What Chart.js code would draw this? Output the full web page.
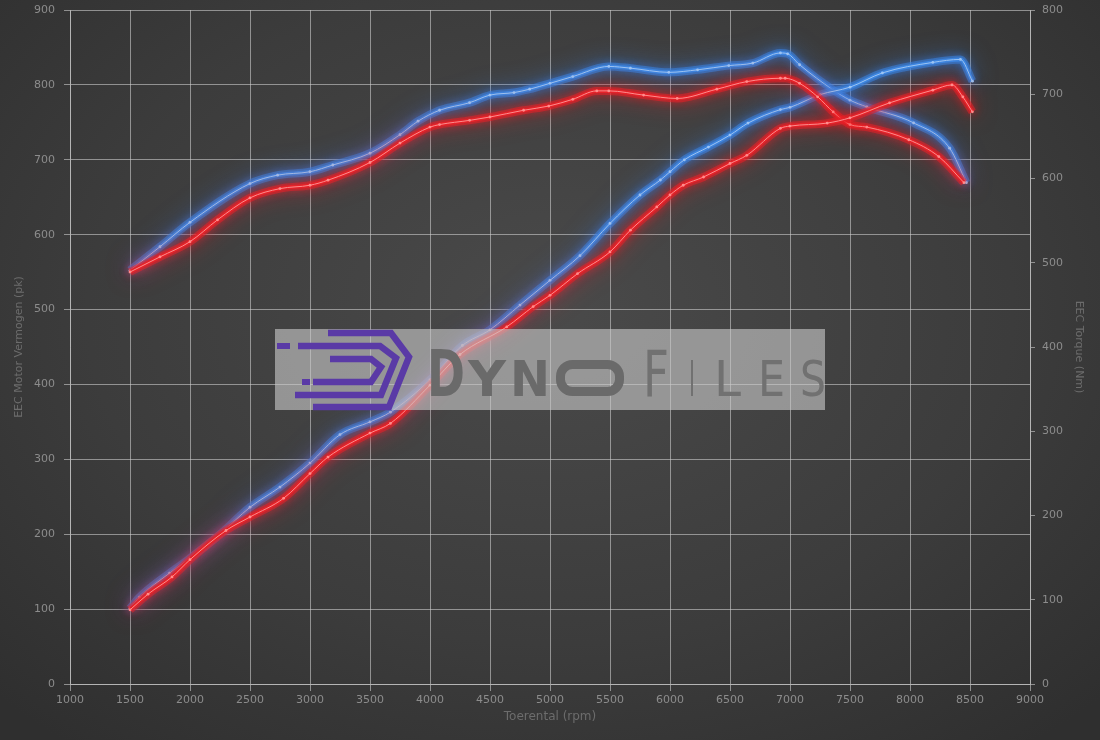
<!DOCTYPE html>
<html>
<head>
<meta charset="utf-8">
<script src="https://cdn.jsdelivr.net/npm/chart.js@4.4.1/dist/chart.umd.min.js"></script>
<style>
html,body{margin:0;padding:0;}
body{width:1100px;height:740px;overflow:hidden;
  background:radial-gradient(ellipse 70% 75% at 50% 42%, #4a4a4a 0%, #3c3c3c 60%, #2f2f2f 100%);}
#wrap{position:relative;width:1100px;height:740px;}
</style>
</head>
<body>
<div id="wrap"><canvas id="dyno" width="1100" height="740"></canvas></div>
<script>
/* Dyno chart - power (pk, left axis) and torque (Nm, right axis), stock vs tuned */

// Data
const rpmPowerTuned = [1500,1580,1830,2000,2250,2500,2750,3000,3250,3500,3670,4000,4270,4500,4750,5000,5250,5500,5750,5920,6000,6120,6320,6500,6650,6920,7000,7250,7500,7770,8190,8420,8520];
const powerTuned    = [101,116,148,168,200,236,263,295,333,350,363,406,452,473,506,539,572,615,653,673,684,700,717,733,749,767,770,787,797,816,830,834,805];

const rpmPowerStock = [1500,1650,1850,2000,2300,2500,2780,3000,3150,3500,3670,4000,4250,4640,4860,5000,5230,5500,5670,5890,6000,6110,6280,6500,6640,6920,7000,7310,7500,7830,8190,8350,8440,8520];
const powerStock    = [99,120,143,166,205,223,248,281,303,335,348,399,440,477,504,519,548,577,606,637,653,666,677,695,706,742,745,749,756,776,793,800,784,764];

const rpmTorqueTuned = [1500,1750,2000,2500,2730,3000,3190,3500,3750,3900,4080,4330,4500,4700,4830,5000,5190,5490,5670,5990,6230,6490,6690,6920,6980,7080,7360,7500,7640,8030,8330,8470];
const torqueTuned    = [491,519,548,594,604,608,616,630,652,668,681,690,699,702,706,713,721,733,731,726,729,734,737,749,748,735,705,693,685,666,636,595];

const rpmTorqueStock = [1500,1750,2000,2230,2500,2750,3000,3150,3500,3750,4000,4080,4330,4500,4780,4990,5190,5390,5490,5780,6060,6390,6640,6920,6960,7080,7230,7360,7500,7640,7990,8240,8450];
const torqueStock    = [489,507,525,551,577,588,592,598,619,642,661,664,669,673,681,686,694,704,704,699,695,706,715,719,719,713,697,679,664,661,646,626,595];

// Axis ranges
const rpmMin = 1000, rpmMax = 9000, rpmStep = 500;
const pkMax = 900, nmMax = 800;

const toXY = (xs, ys) => xs.map((x,i)=>({x, y: ys[i]}));

// Colours
const BLUE = '#3d86e0', BLUE_CORE = '#9cc6f5', BLUE_GLOW = 'rgba(55,130,240,1)';
const RED = '#e4232a', RED_CORE = '#ff8c8c', RED_GLOW = 'rgba(245,30,35,1)';
const gridCol = 'rgba(205,205,205,0.6)';
const tickCol = '#8c8c8c';
const titleCol = '#6c6c6c';
const FONT = 'DejaVu Sans';

function series(label, data, axis, color, core, glowc){
  return {
    label, data, yAxisID: axis,
    borderColor: color, borderWidth: 4,
    pointRadius: 1.4, pointBackgroundColor: core, pointBorderWidth: 0,
    cubicInterpolationMode: 'monotone', fill: false,
    glowColor: glowc, coreColor: core
  };
}

// draw the dataset's line again with other options
function redraw(chart, line, extra){
  const o = line.options;
  line.options = Object.assign({}, o, extra);
  line.draw(chart.ctx, chart.chartArea);
  line.options = o;
}

// glow + light core line
const glowPlugin = {
  id: 'glow',
  beforeDatasetDraw(chart, args){
    const ds = chart.data.datasets[args.index];
    const c = chart.ctx;
    c.save();
    c.shadowColor = ds.glowColor;
    c.shadowBlur = 22;
    c.globalAlpha = 0.55;
    redraw(chart, args.meta.dataset, {borderWidth: 8});
    c.restore();
    c.save();
    c.shadowColor = ds.glowColor;
    c.shadowBlur = 10;
  },
  afterDatasetDraw(chart, args){
    const c = chart.ctx;
    c.restore();
    const ds = chart.data.datasets[args.index];
    redraw(chart, args.meta.dataset, {borderColor: ds.coreColor, borderWidth: 1});
  }
};

// DynoFiles watermark over the plot
const watermark = {
  id: 'watermark',
  afterDraw(chart){
    const c = chart.ctx;
    c.save();
    c.fillStyle = 'rgba(200,200,200,0.62)';
    c.fillRect(275, 329, 550, 81);

    // logo
    c.strokeStyle = '#5a3aa6'; c.fillStyle = '#5a3aa6';
    c.lineWidth = 6.5; c.lineJoin = 'miter'; c.lineCap = 'butt';
    const poly = (pts) => { c.beginPath(); c.moveTo(pts[0][0], pts[0][1]); pts.slice(1).forEach(p=>c.lineTo(p[0],p[1])); c.stroke(); };
    poly([[328,333],[391,333],[409,357],[389,407],[313,407]]);
    poly([[298,346],[380,346],[396,358],[381,395],[295,395]]);
    poly([[330,359],[371,359],[381,367],[371,382],[313,382]]);
    c.fillRect(277, 343, 13, 6);
    c.fillRect(302, 379, 8, 6);

    // text
    c.fillStyle = '#6a6a6a';
    c.textBaseline = 'alphabetic';
    const letter = (ch, x, w, capH, weight) => {
      const size = capH / 0.73;
      c.font = `${weight} ${size}px ${FONT}`;
      const mw = c.measureText(ch).width;
      c.save(); c.translate(x, 396); c.scale(w / mw, 1);
      c.fillText(ch, 0, 0); c.restore();
    };
    letter('D', 427, 38, 47, 'bold');
    letter('Y', 468, 38, 36, 'bold');
    letter('N', 510, 40, 36, 'bold');
    // squarish O
    c.strokeStyle = '#6a6a6a'; c.lineWidth = 9;
    c.beginPath(); c.roundRect(560.5, 364.5, 59, 27, 12); c.stroke();
    c.fillStyle = '#717171';
    letter('F', 643, 26, 47, 'normal');
    letter('I', 689, 6, 36, 'normal');
    letter('L', 714, 27, 36, 'normal');
    letter('E', 758, 27, 36, 'normal');
    letter('S', 800, 26, 36, 'normal');
    c.restore();
  }
};

// keep the plot top at the first grid line, no extra room for the top label
const noPad = (s) => { s.paddingTop = 0; s.paddingBottom = 0; };

new Chart(document.getElementById('dyno'), {
  type: 'line',
  data: {
    datasets: [
      series('Vermogen origineel', toXY(rpmPowerStock, powerStock), 'y', RED, RED_CORE, RED_GLOW),
      series('Koppel origineel', toXY(rpmTorqueStock, torqueStock), 'y2', RED, RED_CORE, RED_GLOW),
      series('Vermogen getuned', toXY(rpmPowerTuned, powerTuned), 'y', BLUE, BLUE_CORE, BLUE_GLOW),
      series('Koppel getuned', toXY(rpmTorqueTuned, torqueTuned), 'y2', BLUE, BLUE_CORE, BLUE_GLOW),
    ]
  },
  options: {
    responsive: false,
    animation: false,
    layout: { padding: { top: 10 } },
    plugins: { legend: { display: false }, tooltip: { enabled: false } },
    scales: {
      x: {
        type: 'linear', min: rpmMin, max: rpmMax,
        afterFit: (s) => { s.height = 56; },
        ticks: { stepSize: rpmStep, color: tickCol, font: { family: FONT, size: 11 }, padding: 3,
                 maxRotation: 0, autoSkip: false, callback: (v) => String(v) },
        grid: { color: gridCol, tickLength: 7, lineWidth: 1 },
        border: { color: gridCol },
        title: { display: true, text: 'Toerental (rpm)', color: titleCol,
                 font: { family: FONT, size: 12 }, padding: { top: 0, bottom: 16 } }
      },
      y: {
        position: 'left', min: 0, max: pkMax,
        afterFit: (s) => { s.width = 70; noPad(s); },
        ticks: { stepSize: 100, color: tickCol, font: { family: FONT, size: 11 }, padding: 9 },
        grid: { color: gridCol, tickLength: 6 },
        border: { color: gridCol },
        title: { display: true, text: 'EEC Motor Vermogen (pk)', color: titleCol,
                 font: { family: FONT, size: 11 }, padding: { top: 13, bottom: 0 } }
      },
      y2: {
        position: 'right', min: 0, max: nmMax,
        afterFit: (s) => { s.width = 70; noPad(s); },
        ticks: { stepSize: 100, color: tickCol, font: { family: FONT, size: 11 }, padding: 7 },
        grid: { drawOnChartArea: false, color: gridCol, tickLength: 5 },
        border: { color: gridCol },
        title: { display: true, text: 'EEC Torque (Nm)', color: titleCol,
                 font: { family: FONT, size: 11 }, padding: { top: 15, bottom: 0 } }
      }
    }
  },
  plugins: [glowPlugin, watermark]
});
</script>
</body>
</html>
